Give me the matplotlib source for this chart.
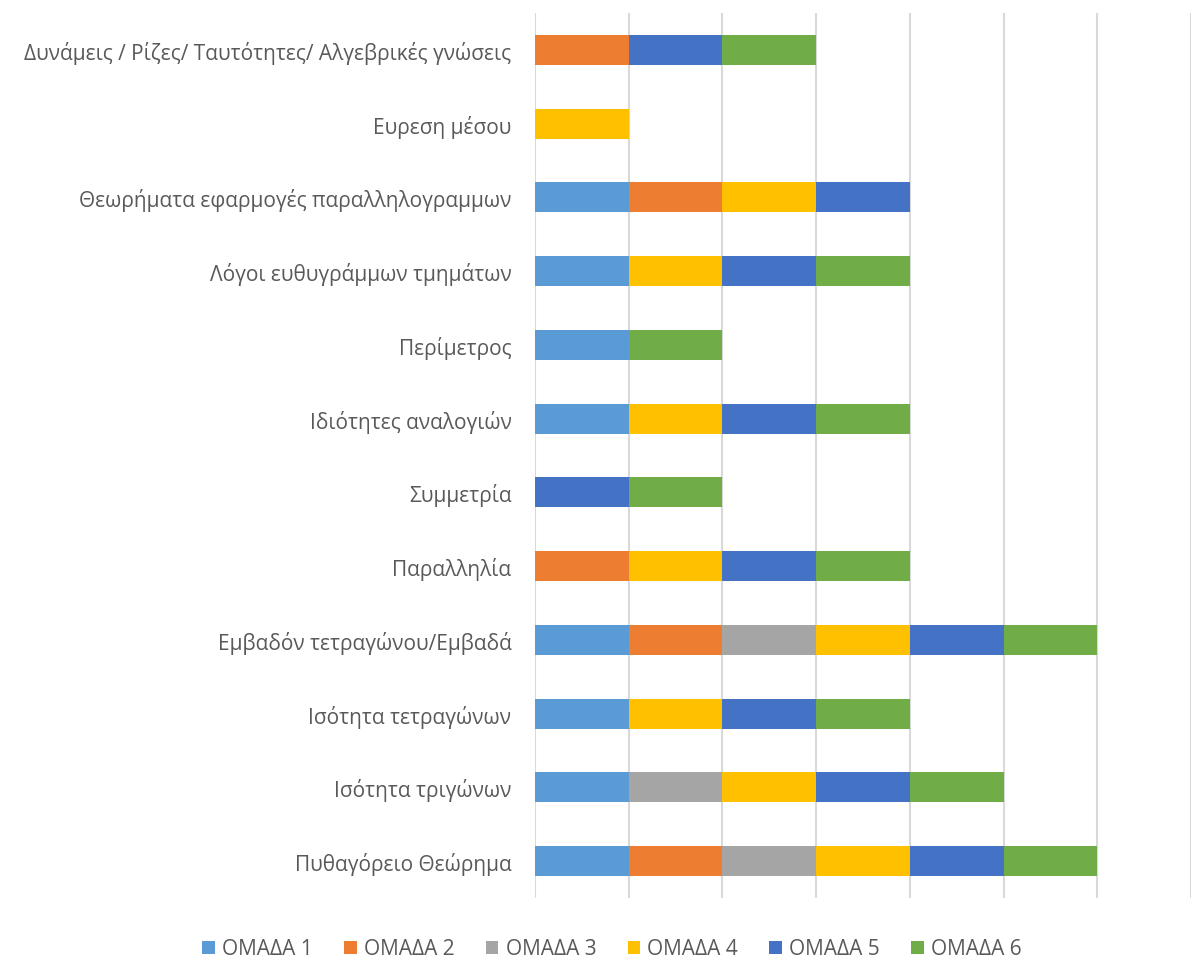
import matplotlib
matplotlib.use("Agg")
import matplotlib.pyplot as plt
import numpy as np

plt.rcParams['font.family'] = ['Open Sans', 'DejaVu Sans']

# Κατηγορίες (από κάτω προς τα πάνω)
topics = [
    "Πυθαγόρειο Θεώρημα",
    "Ισότητα τριγώνων",
    "Ισότητα τετραγώνων",
    "Εμβαδόν τετραγώνου/Εμβαδά",
    "Παραλληλία",
    "Συμμετρία",
    "Ιδιότητες αναλογιών",
    "Περίμετρος",
    "Λόγοι ευθυγράμμων τμημάτων",
    "Θεωρήματα εφαρμογές παραλληλογραμμων",
    "Ευρεση μέσου",
    "Δυνάμεις / Ρίζες/ Ταυτότητες/ Αλγεβρικές γνώσεις",
]

groups = ["ΟΜΑΔΑ 1", "ΟΜΑΔΑ 2", "ΟΜΑΔΑ 3", "ΟΜΑΔΑ 4", "ΟΜΑΔΑ 5", "ΟΜΑΔΑ 6"]
colors = ["#5B9BD5", "#ED7D31", "#A5A5A5", "#FFC000", "#4472C4", "#70AD47"]

omada1 = [1, 1, 1, 1, 0, 0, 1, 1, 1, 1, 0, 0]
omada2 = [1, 0, 0, 1, 1, 0, 0, 0, 0, 1, 0, 1]
omada3 = [1, 1, 0, 1, 0, 0, 0, 0, 0, 0, 0, 0]
omada4 = [1, 1, 1, 1, 1, 0, 1, 0, 1, 1, 1, 0]
omada5 = [1, 1, 1, 1, 1, 1, 1, 0, 1, 1, 0, 1]
omada6 = [1, 1, 1, 1, 1, 1, 1, 1, 1, 0, 0, 1]
series = [omada1, omada2, omada3, omada4, omada5, omada6]

fig = plt.figure(figsize=(11.92, 9.62), dpi=100)
ax = fig.add_axes([535/1192, 63/962, (1191-535)/1192, (899-14)/962])

y = np.arange(len(topics))
left = np.zeros(len(topics))
for name, vals, col in zip(groups, series, colors):
    ax.barh(y, vals, left=left, height=0.41, color=col, label=name, zorder=3)
    left += np.array(vals)

ax.set_xlim(0, 7)
ax.set_ylim(-0.5, len(topics) - 0.5)
ax.set_xticks(range(8))
ax.set_xticklabels([])
ax.tick_params(axis='x', length=0)
ax.tick_params(axis='y', length=0, pad=17, labelsize=15, labelcolor='#595959')
ax.set_yticks(y)
ax.set_yticklabels(topics)
ax.grid(axis='x', color='#D9D9D9', linewidth=1.5, zorder=0)
for s in ax.spines.values():
    s.set_visible(False)

fig.legend(loc='center', bbox_to_anchor=(612/1192, 1 - 950/962), ncol=6,
           frameon=False, fontsize=15, handlelength=0.6, handleheight=0.6,
           handletextpad=0.35, columnspacing=1.5, labelcolor='#595959')

fig.savefig("out.png", dpi=100)
